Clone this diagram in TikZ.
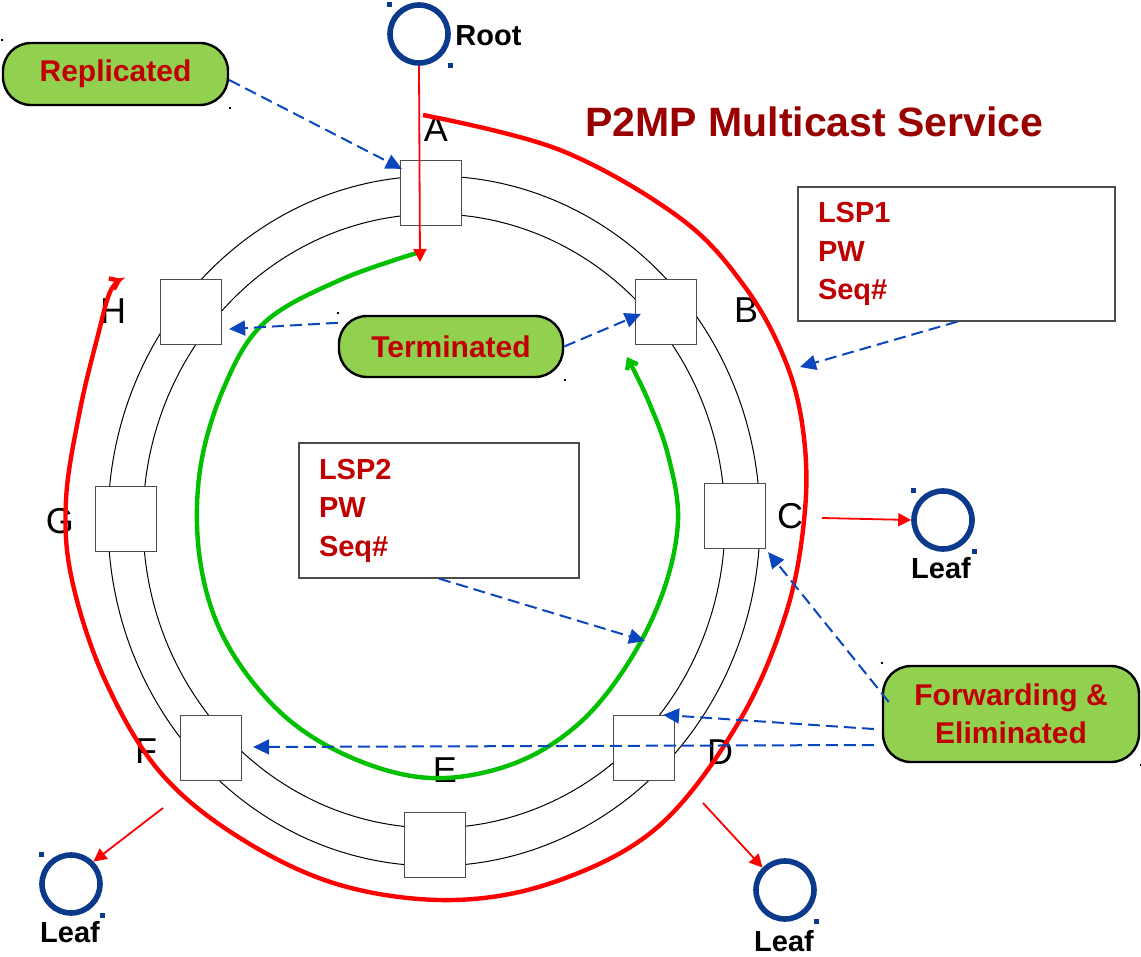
\documentclass[tikz,border=0pt]{standalone}
\usepackage{fontspec}
\setmainfont{Liberation Sans}
\usetikzlibrary{arrows.meta,calc}
\definecolor{navy}{HTML}{0B3A8C}
\definecolor{tagfill}{HTML}{92D050}
\definecolor{darkred}{HTML}{C00000}
\definecolor{titlered}{HTML}{990000}
\definecolor{dashblue}{HTML}{0A47BE}
\definecolor{pathred}{HTML}{FF0000}
\definecolor{pathgreen}{HTML}{00C000}

\begin{document}
\begin{tikzpicture}[x=0.5pt,y=-0.5pt,
  ringbox/.style={draw=black!70,fill=white,line width=0.6pt,minimum width=30.5pt,minimum height=32.5pt,inner sep=0pt},
  letter/.style={inner sep=0pt,font=\fontsize{18}{20}\selectfont},
  tag/.style={draw=black,line width=1.2pt,fill=tagfill,rounded corners=14pt,text=darkred,align=center,inner sep=0pt,font=\fontsize{15}{19}\selectfont\bfseries},
  infobox/.style={draw=black!70,line width=0.6pt,text=darkred,align=left,inner xsep=10pt,font=\fontsize{14.5}{19.3}\selectfont\bfseries},
  leaf/.style={circle,draw=navy,line width=2.8pt,minimum size=29pt,inner sep=0pt},
  leaftext/.style={inner sep=0pt,font=\fontsize{14.5}{17}\selectfont\bfseries},
  hint/.style={draw=dashblue,line width=1pt,dash pattern=on 6pt off 3pt,-{Triangle[length=8pt,width=7.5pt]}},
  feed/.style={draw=pathred,line width=0.9pt,-{Triangle[length=6.5pt,width=6.5pt]}},
  flow/.style={line width=2.2pt,-{Straight Barb[length=4pt,width=6pt]}}]
  \useasboundingbox (0,0) rectangle (1141,957);
  % the two rings
  \draw[line width=0.5pt] (434,521) ellipse [x radius=326,y radius=345];
  \draw[line width=0.5pt] (434,521) ellipse [x radius=291,y radius=307];
  \node[ringbox] (A) at (431,193) {};
  \node[ringbox] (B) at (666,312) {};
  \node[ringbox] (C) at (735,516) {};
  \node[ringbox] (D) at (644,748) {};
  \node[ringbox] (E) at (435,845) {};
  \node[ringbox] (F) at (211,748) {};
  \node[ringbox] (G) at (126,519) {};
  \node[ringbox] (H) at (191,312) {};
  \node[letter] (la) at (436,129) {A};
  \node[letter] (lb) at (746,310) {B};
  \node[letter] (lc) at (790,516) {C};
  \node[letter] (ld) at (720,752) {D};
  \node[letter] (le) at (445,770) {E};
  \node[letter] (lf) at (146,751) {F};
  \node[letter] (lg) at (60,521) {G};
  \node[letter] (lh) at (113,311) {H};
  % service paths
  \draw[flow,pathred] plot[smooth,tension=0.6] coordinates {(423,115) (560,150) (680,218) (745,287) (785,360) (803,430) (805,510) (787,610) (740,720) (660,825) (560,880) (454,900) (340,885) (240,838) (160,772) (105,680) (72,580) (66,500) (80,410) (98,335) (110,292) (122,279)};
  \draw[flow,pathgreen] plot[smooth,tension=0.6] coordinates {(420,252) (340,280) (265,322) (225,385) (200,470) (200,560) (225,640) (280,712) (350,757) (430,778) (510,765) (575,727) (625,668) (662,595) (678,521) (668,455) (648,400) (627,357)};
  \coordinate (redmark) at (800,367);
  \coordinate (greenmark) at (645,641);
  % root and leaves
  \node[leaf] (root) at (419,34) {};
  \node[leaftext,anchor=west] at (455,36) {Root};
  \node[leaf] (leafc) at (943,520) {};
  \node[leaftext] at (941,568) {Leaf};
  \node[leaf] (leafd) at (785,890) {};
  \node[leaftext] at (784,941) {Leaf};
  \node[leaf] (leaff) at (71,884) {};
  \node[leaftext] at (70,932) {Leaf};
  \foreach \l in {root,leafc,leafd,leaff} {
    \fill[navy] ($(\l)+(-32,-32)$) rectangle ++(5,5);
    \fill[navy] ($(\l)+(29,29)$) rectangle ++(5,5);
  }
  \coordinate (rootend) at (420,262);
  \coordinate (cout) at (822,518);
  \coordinate (dout) at (703,803);
  \coordinate (fout) at (163,808);
  \draw[feed] (root.south) -- (rootend);
  \draw[feed] (cout) -- (leafc.west);
  \draw[feed] (dout) -- (leafd.north west);
  \draw[feed] (fout) -- (leaff.north east);
  % notes
  \node[font=\fontsize{20.5}{24}\selectfont\bfseries,text=titlered,anchor=base west,inner sep=0pt] (title) at (585,137) {P2MP Multicast Service};
  \node[tag,minimum width=112.5pt,minimum height=31pt] (rep) at (115.5,74) {Replicated};
  \node[tag,minimum width=112pt,minimum height=30.5pt] (term) at (451,346.5) {Terminated};
  \node[tag,minimum width=128pt,minimum height=48pt] (fwd) at (1011,714) {Forwarding \&\\Eliminated};
  \node[infobox,minimum width=158.5pt,minimum height=67pt,text width=138.5pt] (lsp1) at (956.5,254) {LSP1\\PW\\Seq\#};
  \node[infobox,minimum width=140pt,minimum height=67.5pt,text width=120pt] (lsp2) at (439,510.5) {LSP2\\PW\\Seq\#};
  \foreach \t in {rep,term,fwd} {
    \fill ($(\t.north west)+(-1,-3)$) rectangle ++(2,2);
    \fill ($(\t.south east)+(0,1)$) rectangle ++(2,2);
  }
  \draw[hint] ($(rep.east)+(0,6)$) -- ($(A.north west)+(2,9)$);
  \draw[hint] ($(term.north west)+(0,8)$) -- ($(H.east)+(7,17)$);
  \draw[hint] (term.east) -- ($(B.west)+(6,2)$);
  \draw[hint] ($(lsp1.south)+(1,0)$) -- (redmark);
  \draw[hint] (lsp2.south) -- (greenmark);
  \draw[hint] ($(fwd.west)+(7,-12)$) -- ($(C.south east)+(2,3)$);
  \draw[hint] ($(fwd.west)+(-8,15)$) -- ($(D.north east)+(-12,0)$);
  \draw[hint] ($(fwd.west)+(-8,31)$) -- ($(F.east)+(11,-1)$);
\end{tikzpicture}
\end{document}
